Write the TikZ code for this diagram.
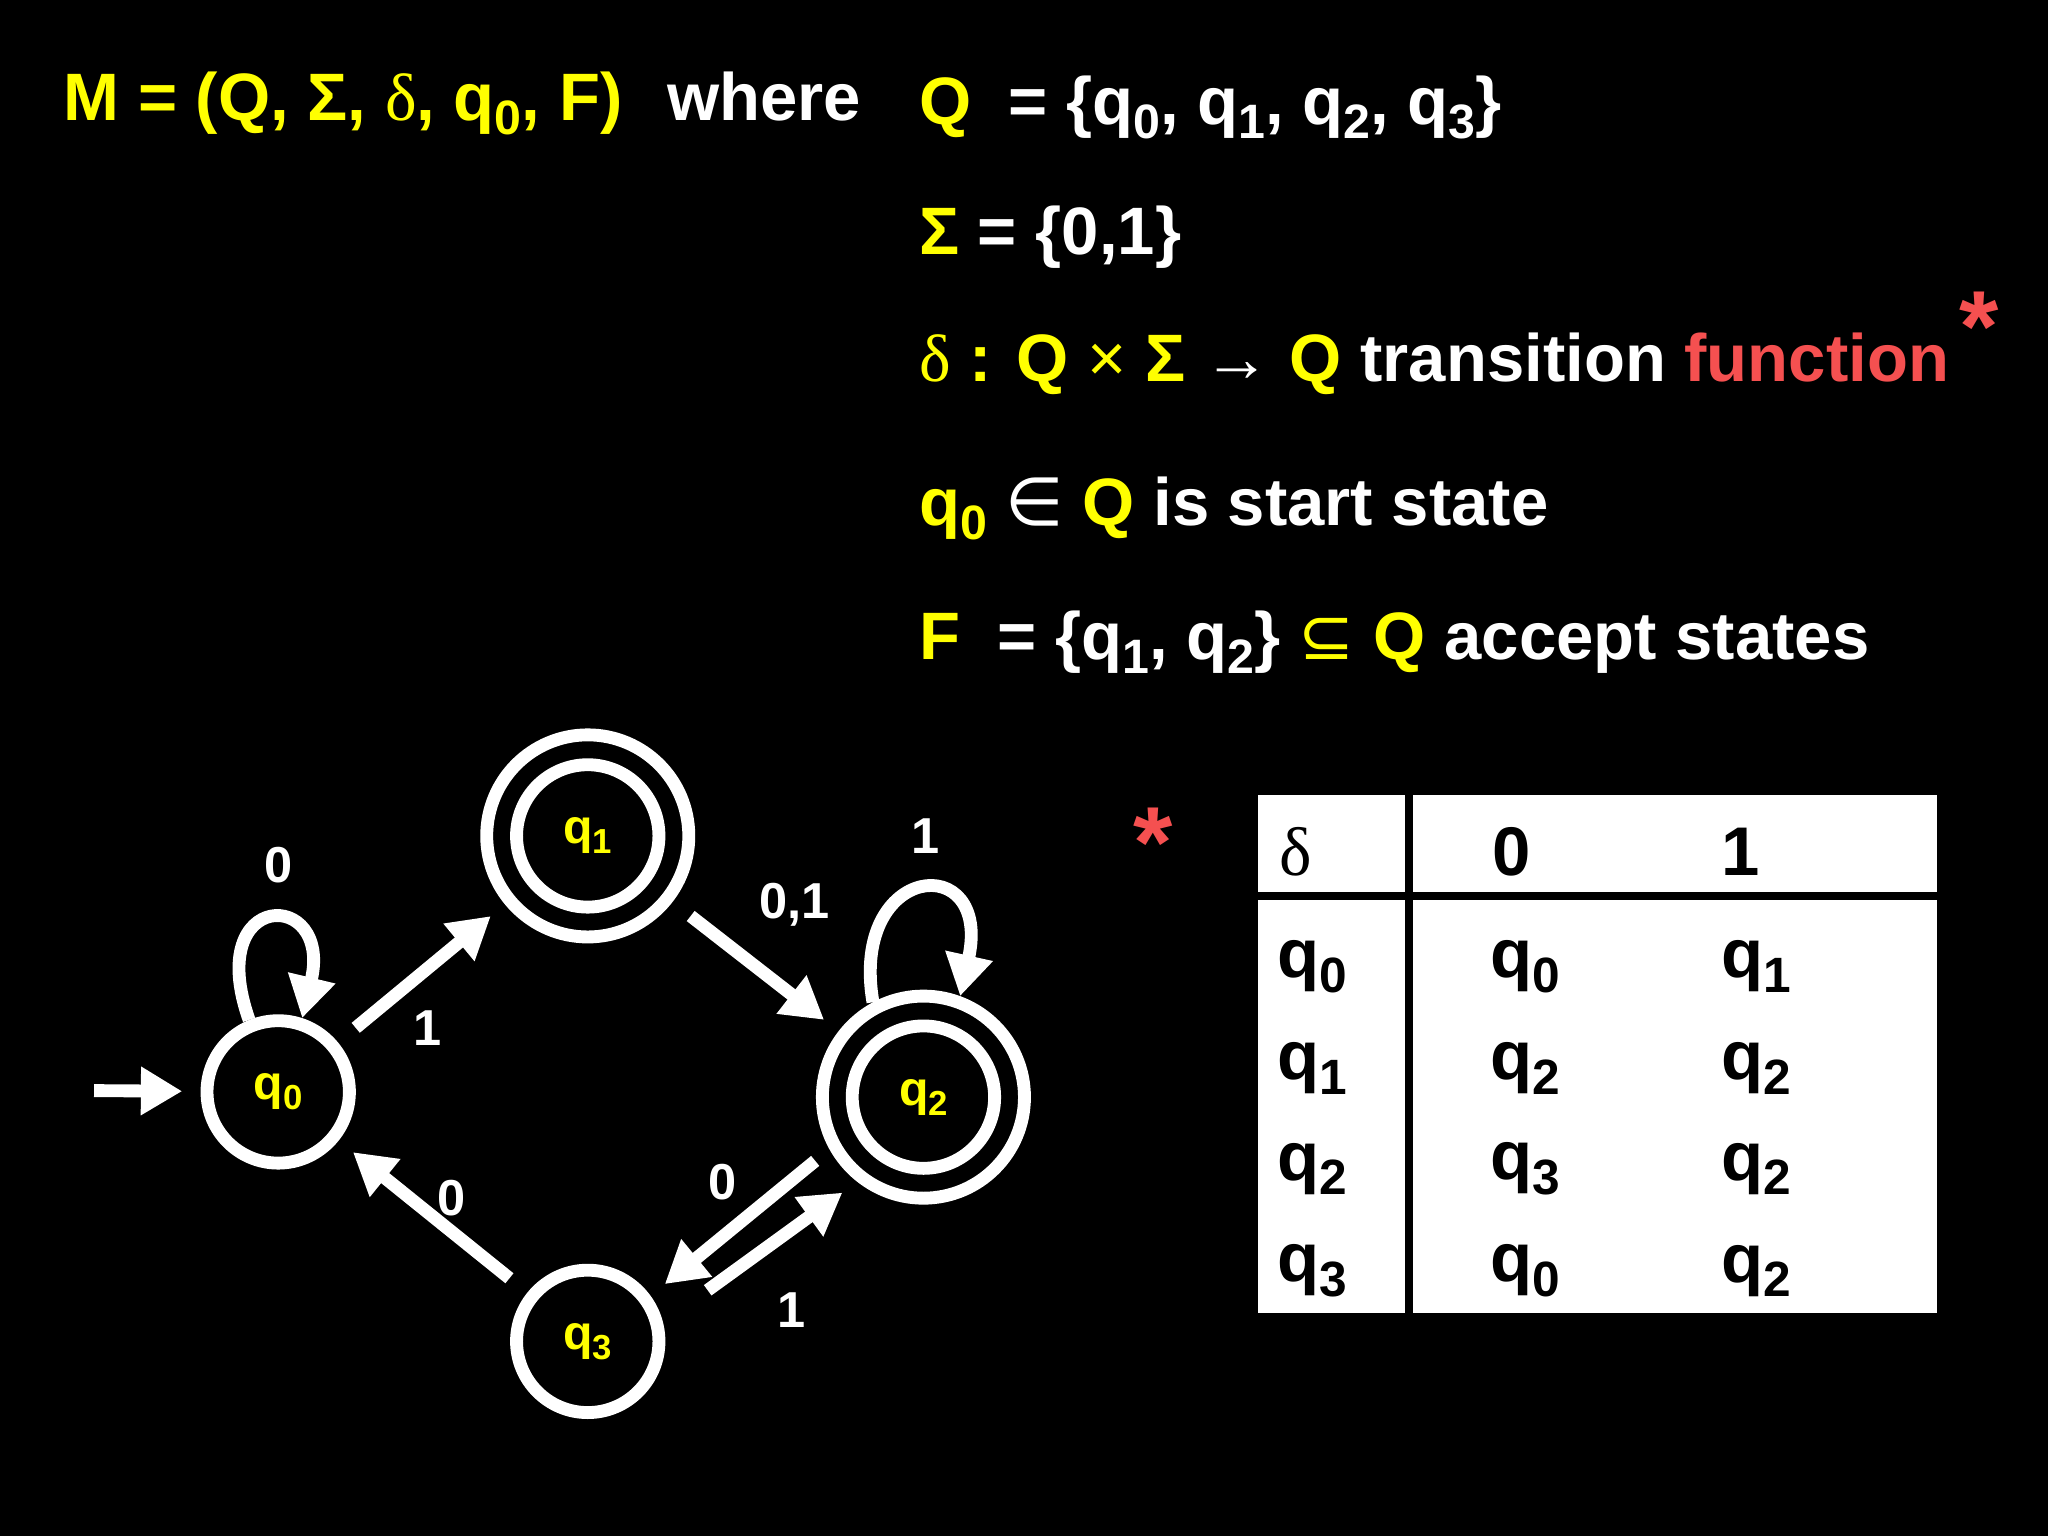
\documentclass[tikz,border=0pt]{standalone}
\usepackage{fontspec}
\setmainfont{Liberation Sans}[BoldFont={* Bold}]
\newfontfamily\serifg{Liberation Serif}
\newfontfamily\dejav{DejaVu Sans}
\usetikzlibrary{arrows.meta}
\newcommand\subs[1]{\raisebox{-0.4ex}{\scalebox{0.72}{#1}}}
\newcommand\dl{{\serifg\fontseries{m}\selectfont δ}}
\definecolor{yel}{RGB}{255,255,0}
\definecolor{redt}{RGB}{245,80,80}
\begin{document}
\begin{tikzpicture}[x=0.01cm,y=-0.01cm,
  txt/.style={anchor=base west,inner sep=0,font=\bfseries\fontsize{14.6}{16}\selectfont},
  state/.style={circle,draw=white,line width=2.8pt,minimum size=31pt,inner sep=0,text=yel,font=\bfseries\fontsize{10.5}{12}\selectfont},
  outer/.style={circle,draw=white,line width=2.8pt,minimum size=44pt,inner sep=0},
  edge/.style={draw=white,line width=2.8pt,-{Triangle[length=9pt,width=10pt]},shorten <=5pt,shorten >=4pt},
  elab/.style={text=white,font=\bfseries\fontsize{11}{12}\selectfont,inner sep=0},
  tab/.style={text=black,font=\bfseries\fontsize{15}{16}\selectfont,inner sep=0}]
\fill[black] (0,0) rectangle (1568,1176);
\useasboundingbox (0,0) rectangle (1568,1176);
% header text
\node[txt,text=yel] (m) at (48,92) {M = (Q, Σ, \dl, q\subs{0}, F)};
\node[txt,text=white] (wh) at (510,92) {where};
\node[txt,text=yel] (l1) at (703,95) {Q \ \textcolor{white}{= \{q\subs{0}, q\subs{1}, q\subs{2}, q\subs{3}\}}};
\node[txt,text=yel] (l2) at (703,195) {Σ \textcolor{white}{= \{0,1\}}};
\node[txt,text=yel] (l3) at (703,292) {\dl\ : Q {\fontseries{m}\selectfont ×} Σ \textcolor{white}{\fontseries{m}\selectfont →} Q \textcolor{white}{transition} \textcolor{redt}{function}};
\node[text=redt,font=\bfseries\fontsize{22}{22}\selectfont,inner sep=0] (st1) at (1515,250) {*};
\node[txt,text=yel] (l4) at (703,402) {q\subs{0} \textcolor{white}{\dejav\fontseries{m}\selectfont ∈} Q \textcolor{white}{is start state}};
\node[txt,text=yel] (l5) at (703,505) {F \ \textcolor{white}{= \{q\subs{1}, q\subs{2}\}} {\dejav\fontseries{m}\selectfont ⊆} Q \textcolor{white}{accept states}};
% states
\node[state] (q0) at (213,836) {q\subs{0}};
\node[state] (q1i) at (450,640) {q\subs{1}};
\node[outer] (q1) at (450,640) {};
\node[state] (q2i) at (707,840) {q\subs{2}};
\node[outer] (q2) at (707,840) {};
\node[state] (q3) at (450,1027) {q\subs{3}};
\coordinate (start) at (72,835);
\draw[edge,shorten <=0pt] (start) -- (q0);
\draw[edge] (q0) -- (q1);
\draw[edge] (q1) -- (q2);
\draw[edge,shorten <=4pt] (q2.209) -- (q3.36);
\draw[edge,shorten <=12pt] (q3.14) -- (q2.232);
\draw[edge] (q3) -- (q0);
\draw[edge,shorten <=0pt,shorten >=0pt] (q0.112) .. controls (155,680) and (255,680) .. (q0.72);
\draw[edge,shorten <=0pt,shorten >=0pt] (q2.118) .. controls (650,660) and (760,650) .. (q2.70);
\node[elab] (e1) at (213,662) {0};
\node[elab] (e2) at (327,787) {1};
\node[elab] (e3) at (608,693) {0,1};
\node[elab] (e4) at (709,640) {1};
\node[elab] (e5) at (553,905) {0};
\node[elab] (e6) at (606,1003) {1};
\node[elab] (e7) at (346,917) {0};
% table
\node[text=redt,font=\bfseries\fontsize{22}{22}\selectfont,inner sep=0] (st2) at (883,645) {*};
\fill[white] (963,609) rectangle (1483,1005);
\fill[black] (1076,609) rectangle (1082,1005);
\fill[black] (963,683) rectangle (1483,689);
\node[tab] (h0) at (992,652) {\dl};
\node[tab] (h1) at (1157,652) {0};
\node[tab] (h2) at (1333,652) {1};
\foreach \y/\a/\b/\c in {740/0/0/1, 818/1/2/2, 895/2/3/2, 973/3/0/2}{
  \node[tab] at (1005,\y) {q\subs{\a}};
  \node[tab] at (1168,\y) {q\subs{\b}};
  \node[tab] at (1345,\y) {q\subs{\c}};
}
\end{tikzpicture}
\end{document}
